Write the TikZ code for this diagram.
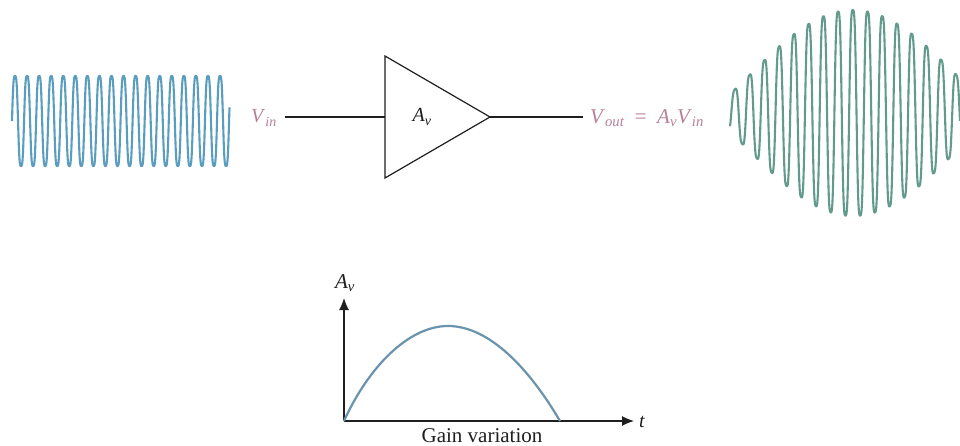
\documentclass[tikz,border=0pt]{standalone}
\usepackage{fontspec}
\usepackage{amsmath}
\setmainfont{Liberation Serif}
\usetikzlibrary{arrows.meta}
\definecolor{wavein}{HTML}{5A9DBE}
\definecolor{waveout}{HTML}{629A8C}
\definecolor{curveblue}{HTML}{6A94AE}
\definecolor{labelpink}{HTML}{B9809A}
\newcommand{\itsub}[2]{\textit{#1}$_{\text{\itshape #2}}$}
\tikzset{
  wire/.style={draw=black!88,line width=1.2pt},
  axisline/.style={draw=black!88,line width=1.2pt,-{Latex[length=12pt,width=10pt]}},
  pinklabel/.style={text=labelpink,font=\fontsize{20}{24}\selectfont,inner sep=0pt},
  blacklabel/.style={text=black!88,font=\fontsize{20}{24}\selectfont,inner sep=0pt},
  waveline/.style={line width=2.1pt,line join=round},
  declare function={
    nn(\t)=(\t-853)/14.73;
    env(\t)=103-1.5885*nn(\t)*nn(\t)+0.00553*nn(\t)*nn(\t)*nn(\t)*nn(\t);
    flat(\a)=(sin(\a)+0.1*sin(3*\a))/0.9;
  }
}
\begin{document}
\begin{tikzpicture}[x=1pt,y=-1pt]
\path[use as bounding box,fill=white] (0,0) rectangle (960,446);
% input wave
\draw[wavein,waveline] plot[samples=900,domain=12:229.5,variable=\x]
    (\x,{121-45*flat(mod((\x-12)/12.06,1)*360)});
% output wave
\draw[waveout,waveline] plot[samples=900,domain=730:960,variable=\x]
    (\x,{113-env(\x)*flat(mod((\x-731.3)/14.73+20,1)*360)});
% amplifier
\coordinate (ampinput) at (385,117);
\coordinate (tip) at (490,117);
\draw[wire,line join=miter] (385,56) -- (tip) -- (385,178) -- cycle;
\node[blacklabel] (gain) at (422,117) {\itsub{A}{v}};
\node[pinklabel] (vin) at (264,118) {\itsub{V}{in}};
\node[pinklabel,anchor=west,font=\fontsize{21}{24}\selectfont] (vout) at (590,118)
  {\itsub{V}{out}\,\,\,=\,\,\,\itsub{A}{v}\itsub{V}{in}};
\coordinate (inwire) at (285,117);
\coordinate (outwire) at (583,117);
\draw[wire] (inwire) -- (ampinput);
\draw[wire] (tip) -- (outwire);
% gain graph
\coordinate (origin) at (344,421);
\coordinate (ytip) at (344,298);
\coordinate (xtip) at (634,421);
\draw[axisline] (origin) -- (ytip);
\draw[axisline] (origin) -- (xtip);
\node[blacklabel,font=\fontsize{21}{24}\selectfont] (avaxis) at (345,283) {\itsub{A}{v}};
\node[blacklabel] (taxis) at (642,422) {\textit{t}};
\node[blacklabel,font=\fontsize{21}{24}\selectfont,anchor=base] (caption) at (482,442) {Gain variation};
\draw[curveblue,line width=2.2pt]
  (origin) .. controls (368,368) and (408,326) .. (448,326)
  .. controls (490,326) and (530,370) .. (560,421);
\end{tikzpicture}
\end{document}
